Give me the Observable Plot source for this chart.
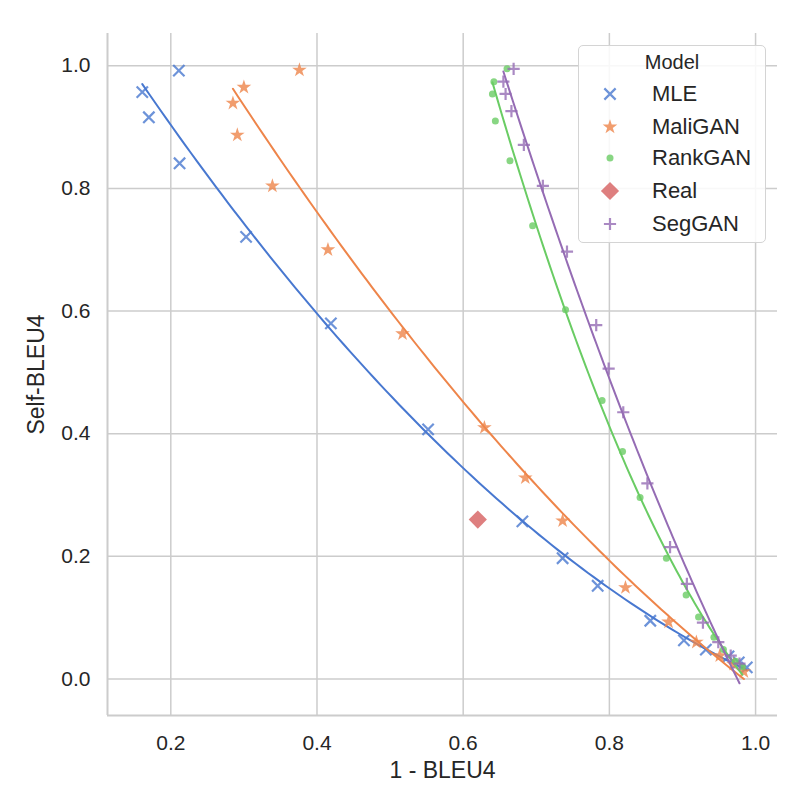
<!DOCTYPE html>
<html><head><meta charset="utf-8">
<script src="https://cdn.jsdelivr.net/npm/d3@7"></script>
<script src="https://cdn.jsdelivr.net/npm/@observablehq/plot@0.6"></script>
<style>
body{margin:0;background:#fff;font-family:"Liberation Sans",Arial,sans-serif;color:#262626;}
#wrap{position:relative;width:811px;height:811px;}
#legend{position:absolute;left:578px;top:45px;width:188px;height:198px;border:1.5px solid #d4d4d4;border-radius:5px;background:rgba(255,255,255,0.85);box-sizing:border-box;}
#legend .title{position:absolute;left:0;width:100%;text-align:center;top:4px;font-size:20px;line-height:24px;}
#legend .row{position:absolute;left:0;height:28px;width:100%;}
#legend .row svg{position:absolute;left:16px;top:0;}
#legend .row span{position:absolute;left:73px;top:1px;font-size:22px;line-height:26px;}
</style></head>
<body><div id="wrap"><div id="chart"></div><div id="legend"></div></div>
<script>
const models = ["MLE", "MaliGAN", "RankGAN", "Real", "SegGAN"];
const colors = ["#4878d0", "#ee854a", "#6acc64", "#d65f5f", "#956cb4"];
const symbols = ["times", "star", "circle", "diamond2", "plus"];

const mleX = [0.161,0.170,0.211,0.212,0.303,0.419,0.552,0.681,0.736,0.784,0.856,0.902,0.932,0.963,0.977,0.988];
const mleY = [0.957,0.916,0.992,0.841,0.721,0.580,0.407,0.257,0.197,0.152,0.095,0.063,0.048,0.037,0.027,0.019];
const maliX = [0.285,0.291,0.300,0.339,0.376,0.415,0.517,0.629,0.685,0.736,0.822,0.881,0.919,0.951,0.970,0.984];
const maliY = [0.939,0.887,0.965,0.804,0.993,0.700,0.563,0.410,0.328,0.258,0.149,0.093,0.060,0.038,0.024,0.012];
const rankX = [0.640,0.642,0.644,0.660,0.664,0.695,0.740,0.790,0.818,0.842,0.878,0.905,0.922,0.943,0.956,0.973,0.982];
const rankY = [0.954,0.974,0.910,0.995,0.845,0.739,0.602,0.454,0.371,0.296,0.197,0.137,0.101,0.068,0.048,0.029,0.020];
const realX = [0.620];
const realY = [0.260];
const segX = [0.655,0.658,0.666,0.669,0.683,0.709,0.742,0.782,0.799,0.819,0.852,0.883,0.906,0.928,0.949,0.966,0.978];
const segY = [0.974,0.954,0.926,0.995,0.871,0.804,0.697,0.577,0.506,0.435,0.319,0.215,0.155,0.092,0.060,0.038,0.025];

const xTicks = [0.2, 0.4, 0.6, 0.8, 1.0];
const yTicks = [0.0, 0.2, 0.4, 0.6, 0.8, 1.0];
const xDomain = [0.1134, 1.030];
const yDomain = [-0.0595, 1.0526];

const series = [[mleX, mleY], [maliX, maliY], [rankX, rankY], [realX, realY], [segX, segY]];
const rs = [5.2, 4.6, 3.5, 8.2, 4.0];

function polyfit2(xs, ys) {
  const n = xs.length;
  let S = [0,0,0,0,0], T = [0,0,0];
  for (let i = 0; i < n; i++) {
    const x = xs[i], y = ys[i];
    let p = 1;
    for (let k = 0; k < 5; k++) { S[k] += p; if (k < 3) T[k] += p * y; p *= x; }
  }
  const A = [[S[0],S[1],S[2],T[0]],[S[1],S[2],S[3],T[1]],[S[2],S[3],S[4],T[2]]];
  for (let c = 0; c < 3; c++) {
    for (let r = c + 1; r < 3; r++) {
      const f = A[r][c] / A[c][c];
      for (let k = c; k < 4; k++) A[r][k] -= f * A[c][k];
    }
  }
  const b = [0,0,0];
  for (let r = 2; r >= 0; r--) {
    let s = A[r][3];
    for (let k = r + 1; k < 3; k++) s -= A[r][k] * b[k];
    b[r] = s / A[r][r];
  }
  return x => b[0] + b[1] * x + b[2] * x * x;
}

const marks = [
  Plot.gridX(xTicks, {stroke: "#cccccc", strokeOpacity: 1, strokeWidth: 1.5}),
  Plot.gridY(yTicks, {stroke: "#cccccc", strokeOpacity: 1, strokeWidth: 1.5}),
  Plot.ruleX([xDomain[0]], {stroke: "#cccccc", strokeWidth: 2}),
  Plot.ruleY([yDomain[0]], {stroke: "#cccccc", strokeWidth: 2}),
  Plot.axisX(xTicks, {tickSize: 0, tickPadding: 20, tickFormat: d3.format(".1f"), fontSize: 21, fill: "#262626", label: null}),
  Plot.axisY(yTicks, {tickSize: 0, tickPadding: 17, tickFormat: d3.format(".1f"), fontSize: 21, fill: "#262626", label: null}),
  Plot.axisX([], {label: "1 - BLEU4", labelAnchor: "center", labelArrow: "none", labelOffset: 62, fontSize: 23, fill: "#262626", tickSize: 0}),
  Plot.axisY([], {label: "Self-BLEU4", labelAnchor: "center", labelArrow: "none", labelOffset: 80, fontSize: 23, fill: "#262626", tickSize: 0})
];

series.forEach(([xs, ys], i) => {
  const data = xs.map((x, j) => ({x, y: ys[j]}));
  const stroked = symbols[i] === "times" || symbols[i] === "plus";
  marks.push(Plot.dot(data, {
    x: "x", y: "y", symbol: () => symbols[i], r: rs[i],
    fill: stroked ? "none" : colors[i],
    stroke: stroked ? colors[i] : "none",
    strokeWidth: stroked ? 2.2 : 0,
    fillOpacity: 0.8, strokeOpacity: 0.8
  }));
  if (xs.length > 2) {
    const f = polyfit2(xs, ys);
    const [x0, x1] = d3.extent(xs);
    const line = d3.range(100).map(k => { const x = x0 + (x1 - x0) * k / 99; return {x, y: f(x)}; });
    marks.push(Plot.line(line, {x: "x", y: "y", stroke: colors[i], strokeWidth: 2}));
  }
});

const chart = Plot.plot({
  width: 811, height: 811,
  marginLeft: 107, marginRight: 34, marginTop: 33, marginBottom: 96,
  style: {fontFamily: "'Liberation Sans', Arial, sans-serif", background: "#fff", color: "#262626"},
  x: {domain: xDomain},
  y: {domain: yDomain},
  symbol: {type: "identity"},
  marks
});
document.getElementById("chart").appendChild(chart);

// legend
const leg = document.getElementById("legend");
const t = document.createElement("div"); t.className = "title"; t.textContent = "Model"; leg.appendChild(t);
const rowTops = [34, 67, 98, 131, 164];
const symMap = {times: d3.symbolTimes, star: d3.symbolStar, circle: d3.symbolCircle, diamond2: d3.symbolDiamond2, plus: d3.symbolPlus};
models.forEach((m, i) => {
  const row = document.createElement("div"); row.className = "row"; row.style.top = rowTops[i] + "px";
  const s = d3.create("svg").attr("width", 30).attr("height", 28);
  const stroked = symbols[i] === "times" || symbols[i] === "plus";
  const r = rs[i];
  s.append("path")
    .attr("transform", "translate(15,14)")
    .attr("d", d3.symbol(symMap[symbols[i]], r * r * Math.PI)())
    .attr("fill", stroked ? "none" : colors[i])
    .attr("stroke", stroked ? colors[i] : "none")
    .attr("stroke-width", stroked ? 2.2 : 0)
    .attr("opacity", 0.8);
  row.appendChild(s.node());
  const sp = document.createElement("span"); sp.textContent = m; row.appendChild(sp);
  leg.appendChild(row);
});
</script>
</body></html>
